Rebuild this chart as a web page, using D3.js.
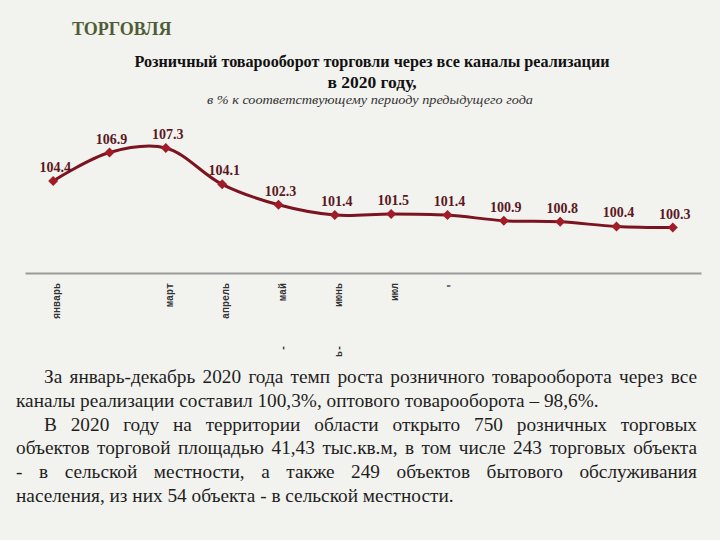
<!DOCTYPE html>
<html><head><meta charset="utf-8">
<script src="https://cdn.jsdelivr.net/npm/d3@7"></script>
</head>
<body style="margin:0;background:#f3f3f1">
<script>
const months = ["январь","февраль","март","апрель","май","июнь","июль","август","сентябрь","октябрь","ноябрь","декабрь"];
const values = [104.4,106.9,107.3,104.1,102.3,101.4,101.5,101.4,100.9,100.8,100.4,100.3];
const tickLabels = ["январь","","март","апрель","май","июнь","июл","'","","","",""];
const fragLabels = ["","","","","-","ь-","","","","","",""];
const sectionTitle = "ТОРГОВЛЯ";
const titleLines = ["Розничный товарооборот торговли через все каналы реализации","в 2020 году,"];
const subtitle = "в  % к соответствующему периоду предыдущего года";
const paragraphLines = [
  {text:"За январь-декабрь 2020 года темп роста розничного товарооборота через все", indent:true, justify:true},
  {text:"каналы реализации составил 100,3%, оптового товарооборота – 98,6%.", indent:false, justify:false},
  {text:"В 2020 году на территории области открыто 750 розничных торговых", indent:true, justify:true},
  {text:"объектов торговой площадью 41,43 тыс.кв.м, в том числе 243 торговых объекта", indent:false, justify:true},
  {text:"- в сельской местности, а также 249 объектов бытового обслуживания", indent:false, justify:true},
  {text:"населения, из них 54 объекта - в сельской местности.", indent:false, justify:false}
];

const SERIF = '"Liberation Serif"';
const MONO = '"Liberation Mono"';
const W = 720, H = 540;
const svg = d3.select("body").append("svg").attr("width", W).attr("height", H).style("display", "block");
svg.append("rect").attr("width", W).attr("height", H).attr("fill", "#f2f2ef");

function txt(sel, fam, size, weight, style) {
  sel.style("font-family", fam).style("font-size", size + "px");
  if (weight) sel.style("font-weight", weight);
  if (style) sel.style("font-style", style);
  return sel;
}

// Section title
txt(svg.append("text"), SERIF, 18, "bold").attr("x", 72).attr("y", 35)
  .attr("fill", "#4e5d36").text(sectionTitle);

// Chart titles
txt(svg.append("text"), SERIF, 17, "bold").attr("x", 372).attr("y", 67).attr("text-anchor", "middle")
  .attr("fill", "#111").attr("textLength", 475).attr("lengthAdjust", "spacingAndGlyphs")
  .text(titleLines[0]);
txt(svg.append("text"), SERIF, 17.5, "bold").attr("x", 372).attr("y", 88).attr("text-anchor", "middle")
  .attr("fill", "#111").text(titleLines[1]);
txt(svg.append("text"), SERIF, 13, null, "italic").attr("x", 370).attr("y", 104).attr("text-anchor", "middle")
  .attr("fill", "#333").attr("textLength", 326).attr("lengthAdjust", "spacingAndGlyphs")
  .text(subtitle);

// Scales
const x = d3.scaleBand().domain(months).range([25, 701]);
const cx = m => x(m) + x.bandwidth() / 2;
const y = d3.scaleLinear().domain([96.3, 108]).range([273, 140]);

// Axis line
const xAxis = svg.append("g").attr("transform", "translate(0,273)")
  .call(d3.axisBottom(x).tickSize(0).tickFormat(""));
xAxis.select(".domain").attr("stroke", "#9a9a9a").attr("stroke-width", 2);

// Tick labels (rotated)
const lblG = svg.append("g");
months.forEach((m, i) => {
  if (tickLabels[i]) {
    txt(lblG.append("text"), MONO, 10, "bold")
      .attr("transform", `translate(${cx(m) + 7},283) rotate(-90)`)
      .attr("text-anchor", "end").attr("fill", "#333")
      .text(tickLabels[i]);
  }
  if (fragLabels[i]) {
    txt(lblG.append("text"), MONO, 10, "bold")
      .attr("transform", `translate(${cx(m) + 7},345) rotate(-90)`)
      .attr("text-anchor", "end").attr("fill", "#333")
      .text(fragLabels[i]);
  }
});

// Line
const data = months.map((m, i) => ({m, v: values[i]}));
const line = d3.line().x(d => cx(d.m)).y(d => y(d.v)).curve(d3.curveCatmullRom.alpha(0.5));
svg.append("path").datum(data).attr("d", line)
  .attr("fill", "none").attr("stroke", "#7b1420").attr("stroke-width", 3);

// Markers
svg.append("g").selectAll("path").data(data).join("path")
  .attr("transform", d => `translate(${cx(d.m)},${y(d.v)})`)
  .attr("d", "M0,-5L5,0L0,5L-5,0Z")
  .attr("fill", "#a11c26");

// Value labels
const vl = svg.append("g").selectAll("text").data(data).join("text");
txt(vl, SERIF, 14, "bold")
  .attr("x", d => cx(d.m) + 2).attr("y", d => y(d.v) - 9)
  .attr("text-anchor", "middle").attr("fill", "#5a1822")
  .text(d => d.v.toFixed(1));

// Paragraph
const pg = svg.append("g");
const left = 16, indentX = 44, right = 697, base0 = 383, lh = 23.8;
const ptext = (xx, yy, s) => txt(pg.append("text"), SERIF, 19.3)
  .attr("fill", "#1e1e1e").attr("x", xx).attr("y", yy).text(s);
paragraphLines.forEach((ln, i) => {
  const yy = base0 + i * lh;
  const x0 = ln.indent ? indentX : left;
  if (!ln.justify) { ptext(x0, yy, ln.text); return; }
  const words = ln.text.split(" ");
  const nodes = words.map(w => ptext(0, yy, w));
  const widths = nodes.map(n => n.node().getComputedTextLength());
  const total = d3.sum(widths);
  const gap = (right - x0 - total) / (words.length - 1);
  let xx = x0;
  nodes.forEach((n, k) => { n.attr("x", xx); xx += widths[k] + gap; });
});
</script>
</body></html>
